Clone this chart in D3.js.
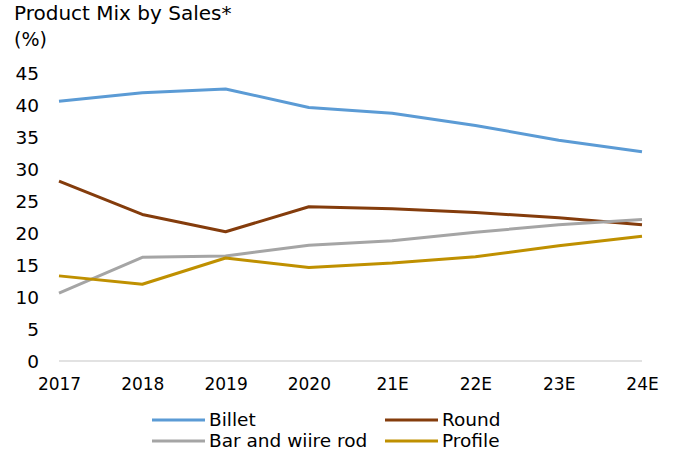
<!DOCTYPE html>
<html><head><meta charset="utf-8">
<script src="https://cdn.jsdelivr.net/npm/d3@7"></script>
<style>body{margin:0;background:#fff}svg{display:block}text{font-family:"DejaVu Sans",sans-serif;fill:#000}</style>
</head><body><svg id="c" width="678" height="455"></svg>
<script>
const categories = ["2017","2018","2019","2020","21E","22E","23E","24E"];
const billet = [40.6, 41.9, 42.5, 39.6, 38.7, 36.8, 34.5, 32.7];
const round = [28.1, 22.9, 20.2, 24.1, 23.8, 23.2, 22.4, 21.3];
const barWire = [10.6, 16.2, 16.4, 18.1, 18.8, 20.1, 21.3, 22.1];
const profile = [13.3, 12.0, 16.1, 14.6, 15.3, 16.3, 18.0, 19.5];
const yTicks = [0,5,10,15,20,25,30,35,40,45];
const seriesNames = ["Billet","Round","Bar and wiire rod","Profile"];
const seriesColors = ["#5B9BD5","#843C0C","#A5A5A5","#BF9000"];
const seriesData = [billet, round, barWire, profile];

const svg = d3.select("#c");
const x = d3.scalePoint().domain(categories).range([59, 642]);
const y = d3.scaleLinear().domain([0,45]).range([361, 73]);

svg.append("text").attr("x",14).attr("y",20).attr("font-size",20).text("Product Mix by Sales*");
svg.append("text").attr("x",14).attr("y",46).attr("font-size",19).text("(%)");

// baseline
svg.append("line").attr("x1",x(categories[0])).attr("x2",x(categories[categories.length-1]))
  .attr("y1",y(0)).attr("y2",y(0)).attr("stroke","#D9D9D9").attr("stroke-width",1.5);

// y axis
const yAxis = d3.axisLeft(y).tickValues(yTicks).tickSize(0).tickPadding(0);
const gy = svg.append("g").attr("transform","translate(39,0)").call(yAxis);
gy.select(".domain").remove();
gy.selectAll("text").attr("font-size",18.5).attr("font-family","DejaVu Sans").attr("fill","#000").attr("dy","0.35em");

// x axis
const xAxis = d3.axisBottom(x).tickSize(0).tickPadding(0);
const gx = svg.append("g").attr("transform","translate(0,378)").call(xAxis);
gx.select(".domain").remove();
gx.selectAll("text").attr("font-size",17).attr("font-family","DejaVu Sans").attr("fill","#000").attr("dy","0.71em");

const line = d3.line().x((d,i)=>x(categories[i])).y(d=>y(d));
seriesData.forEach((s,k)=>{
  svg.append("path").datum(s).attr("d",line).attr("fill","none")
    .attr("stroke",seriesColors[k]).attr("stroke-width",3).attr("stroke-linejoin","round");
});

// legend
const legPos = [[152,420],[385,420],[152,441],[385,441]];
seriesNames.forEach((n,k)=>{
  const [lx,ly] = legPos[k];
  svg.append("line").attr("x1",lx).attr("x2",lx+53).attr("y1",ly).attr("y2",ly)
    .attr("stroke",seriesColors[k]).attr("stroke-width",3);
  svg.append("text").attr("x",lx+57).attr("y",ly).attr("dy","0.35em").attr("font-size",18.5).text(n);
});
</script></body></html>
